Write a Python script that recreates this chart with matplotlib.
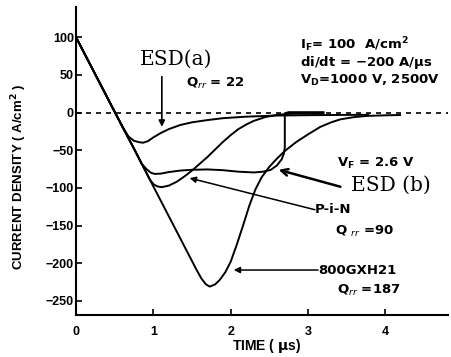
import matplotlib
matplotlib.use("Agg")
import matplotlib.pyplot as plt

plt.rcParams['font.family'] = ['Liberation Sans', 'DejaVu Sans']
plt.rcParams['mathtext.fontset'] = 'custom'
plt.rcParams['mathtext.rm'] = 'DejaVu Sans'
plt.rcParams['mathtext.it'] = 'DejaVu Sans:italic'
plt.rcParams['mathtext.bf'] = 'DejaVu Sans:bold'

# data (time in us, current density in A/cm2)
esd_a_t = [0, 0.25, 0.5, 0.6, 0.68, 0.75, 0.82, 0.87, 0.93, 1.0, 1.1, 1.2, 1.35,
           1.5, 1.7, 1.9, 2.2, 2.6, 3.0, 3.4, 3.78]
esd_a_i = [100, 50.5, 1, -19, -32, -37.5, -39.5, -40, -38, -33, -27, -22, -16.5,
           -13, -10, -7.5, -5.5, -4, -3.5, -3.2, -3]

esd_b_t = [0, 0.25, 0.5, 0.75, 0.85, 0.91, 0.97, 1.02, 1.1, 1.2, 1.35, 1.5, 1.7,
           1.9, 2.1, 2.3, 2.42, 2.52, 2.6, 2.66, 2.69, 2.70, 2.70, 2.75, 3.0, 3.2]
esd_b_i = [100, 50.5, 1, -48, -68, -75, -80, -81.5, -81, -79, -77, -76, -75.5,
           -76.5, -78.5, -79.5, -78.5, -76, -70, -62, -54, -46, -1, 0.5, 0.5, 0.5]

pin_t = [0, 0.25, 0.5, 0.75, 0.95, 1.0, 1.05, 1.11, 1.2, 1.3, 1.4, 1.5, 1.6,
         1.7, 1.8, 1.9, 2.0, 2.1, 2.2, 2.3, 2.45, 2.6, 2.8, 3.2]
pin_i = [100, 50.5, 1, -48, -88, -95, -98, -99, -97, -92, -85, -77, -68,
         -59, -49, -39, -30, -22, -16, -11, -6, -3, -1.5, -1.2]

gxh_t = [0, 0.25, 0.5, 0.75, 1.0, 1.25, 1.55, 1.62, 1.68, 1.73, 1.80, 1.86,
         1.93, 2.0, 2.08, 2.16, 2.24, 2.32, 2.40, 2.50, 2.60, 2.70, 2.85, 3.0,
         3.16, 3.3, 3.42, 3.6, 3.76, 4.0, 4.19]
gxh_i = [100, 50.5, 1, -48, -98, -147.5, -207, -220, -228, -231, -228, -222,
         -212, -198, -175, -150, -124, -102, -86, -72, -61, -51, -39, -29,
         -19, -13, -9, -6, -4.5, -3.7, -3.3]

y_ticks = [-250, -200, -150, -100, -50, 0, 50, 100]
x_ticks = [0, 1, 2, 3, 4]

fig = plt.figure(figsize=(4.51, 3.57), dpi=100)
ax = fig.add_axes([0.1685, 0.1176, 0.8248, 0.8627])

for t, i in [(esd_a_t, esd_a_i), (esd_b_t, esd_b_i), (pin_t, pin_i), (gxh_t, gxh_i)]:
    ax.plot(t, i, color='black', lw=1.4, solid_joinstyle='round')

ax.axhline(0, color='black', lw=1.2, ls=(0, (3, 3)))

ax.set_xlim(0, 4.81)
ax.set_ylim(-268.7, 140)
ax.set_xticks(x_ticks)
ax.set_yticks(y_ticks)
ax.spines['top'].set_visible(False)
ax.spines['right'].set_visible(False)
ax.spines['left'].set_linewidth(1.5)
ax.spines['bottom'].set_linewidth(1.5)
ax.tick_params(axis='both', direction='in', length=4, width=1.2, labelsize=9)
ax.tick_params(axis='y', pad=1.5)
ax.tick_params(axis='x', pad=8)
for lab in ax.get_xticklabels() + ax.get_yticklabels():
    lab.set_fontweight('bold')

ax.set_ylabel(r'CURRENT DENSITY ( A/cm$^\mathbf{2}$ )', fontsize=9.5, fontweight='bold')
ax.yaxis.set_label_coords(-0.125, 0.45)
ax.set_xlabel(r'TIME ( $\mathbf{\mu}$s)', fontsize=10, fontweight='bold', va='top')
ax.xaxis.set_label_coords(0.513, -0.072)

serif = dict(family='DejaVu Serif', fontsize=14.5)
txt = dict(family='DejaVu Sans', fontsize=9.5, fontweight='bold')

ax.text(1.30, 70.6, 'ESD(a)', ha='center', va='center', **serif)
ax.annotate('', xy=(1.11, -19), xytext=(1.11, 47.6),
            arrowprops=dict(arrowstyle='-|>', color='black', lw=1.2,
                            mutation_scale=9, shrinkA=0, shrinkB=0))
ax.text(1.80, 38.8, r'Q$_{rr}$ = 22', ha='center', va='center', **txt)

ax.text(2.90, 89.6, r'I$_\mathbf{F}$= 100  A/cm$^\mathbf{2}$', ha='left', va='center', **txt)
ax.text(2.90, 66, r'di/dt = $\mathbf{-}$200 A/$\mathbf{\mu}$s', ha='left', va='center', **txt)
ax.text(2.90, 42, r'V$_\mathbf{D}$=1000 V, 2500V', ha='left', va='center', **txt)

ax.text(3.37, -67.5, r'V$_\mathbf{F}$ = 2.6 V', ha='left', va='center', **txt)
ax.text(3.56, -96, 'ESD (b)', ha='left', va='center', **serif)
ax.annotate('', xy=(2.62, -76), xytext=(3.42, -98.5),
            arrowprops=dict(arrowstyle='->', color='black', lw=1.8,
                            mutation_scale=12, shrinkA=0, shrinkB=0))

ax.text(3.09, -129, 'P-i-N', ha='left', va='center', **txt)
ax.annotate('', xy=(1.47, -87), xytext=(3.09, -129),
            arrowprops=dict(arrowstyle='-|>', color='black', lw=1.1,
                            mutation_scale=9, shrinkA=0, shrinkB=0))
ax.text(3.74, -158, r'Q $_{rr}$ =90', ha='center', va='center', **txt)

ax.text(3.13, -209, '800GXH21', ha='left', va='center', **txt)
ax.annotate('', xy=(2.04, -209), xytext=(3.13, -209),
            arrowprops=dict(arrowstyle='-|>', color='black', lw=1.1,
                            mutation_scale=9, shrinkA=0, shrinkB=0))
ax.text(3.78, -236, r'Q$_{rr}$ =187', ha='center', va='center', **txt)

plt.savefig('out.png', dpi=100)
